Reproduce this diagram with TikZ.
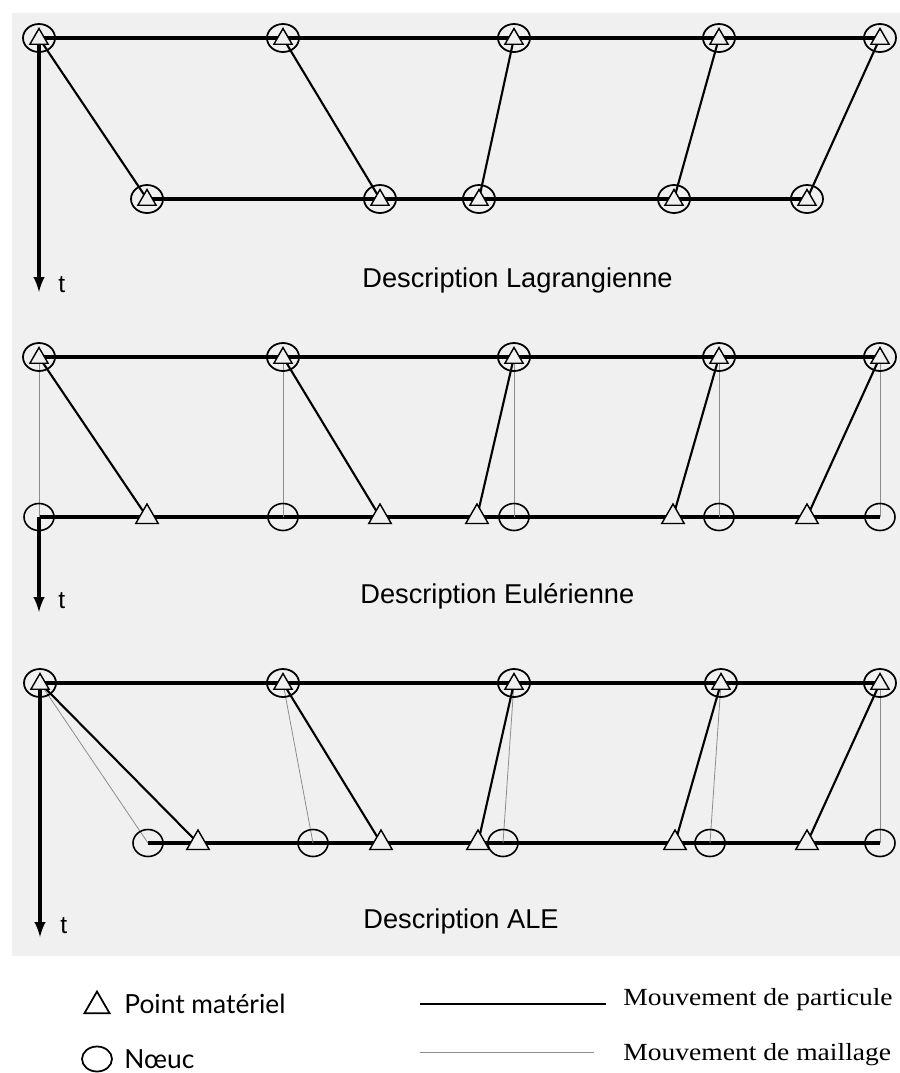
\documentclass[tikz,border=0pt]{standalone}
\usepackage{fontspec}
\setmainfont{Liberation Serif}
\newfontfamily\descfont{Liberation Sans}
\newfontfamily\legfont{Lato}
\usepackage{xcolor}
\usepackage{tikz}
\usetikzlibrary{shapes.geometric}

\definecolor{fond}{gray}{0.94}
\pgfdeclarelayer{fondlayer}
\pgfdeclarelayer{traits}
\pgfsetlayers{fondlayer,traits,main}

\tikzset{
	noeud/.style={draw,ellipse,line width=0.9pt,minimum width=0.6cm,minimum height=0.54cm,inner sep=0pt},
	tete/.style={noeud,line width=1pt,minimum width=0.64cm,minimum height=0.56cm},
	materiel/.style={draw,fill=fond,regular polygon,regular polygon sides=3,line width=0.8pt,minimum size=0.52cm,inner sep=0pt},
	matpetit/.style={materiel,minimum size=0.42cm},
	ligne/.style={line width=1.9pt},
	traitpart/.style={line width=1.2pt},
	traitmaille/.style={line width=0.45pt,black!45},
	desc/.style={font=\descfont\fontsize{15.5}{18}\selectfont,anchor=base west,inner sep=0pt},
	tlab/.style={font=\descfont\fontsize{14}{16}\selectfont,anchor=base west,inner sep=0pt},
}

\begin{document}
\begin{tikzpicture}[x=0.02cm,y=-0.02cm]
		\useasboundingbox (0,0) rectangle (900,1073);
		\begin{pgfonlayer}{fondlayer}
			\fill[white] (0,0) rectangle (900,1073);
			\fill[fond] (12,13) rectangle (900,956);
		\end{pgfonlayer}

		% Lagrangien : maillage et matiere ensemble
		\node[tete] (la1) at (39,38) {};
		\node[tete] (la2) at (283,38) {};
		\node[tete] (la3) at (514,38) {};
		\node[tete] (la4) at (719,38) {};
		\node[tete] (la5) at (880,38) {};
		\node[matpetit] (la1p) at (39,39) {};
		\node[matpetit] (la2p) at (283,39) {};
		\node[matpetit] (la3p) at (514,39) {};
		\node[matpetit] (la4p) at (719,39) {};
		\node[matpetit] (la5p) at (880,39) {};
		\node[tete] (lb1) at (147,199) {};
		\node[tete] (lb2) at (380,199) {};
		\node[tete] (lb3) at (479,199) {};
		\node[tete] (lb4) at (674,199) {};
		\node[tete] (lb5) at (807,199) {};
		\node[matpetit] (lb1p) at (147,200) {};
		\node[matpetit] (lb2p) at (380,200) {};
		\node[matpetit] (lb3p) at (479,200) {};
		\node[matpetit] (lb4p) at (674,200) {};
		\node[matpetit] (lb5p) at (807,200) {};
		\coordinate (lt) at (39,292);
		\node[tlab] (ltlab) at (58,292) {t};
		\node[desc] (ltitre) at (362,287) {Description Lagrangienne};
		\begin{pgfonlayer}{traits}
			\draw[ligne] (la1.center) -- (la5.center);
			\draw[ligne] (lb1.center) -- (lb5.center);
			\draw[traitpart] (la1.center) -- (lb1.center);
			\draw[traitpart] (la2.center) -- (lb2.center);
			\draw[traitpart] (la3.center) -- (lb3.center);
			\draw[traitpart] (la4.center) -- (lb4.center);
			\draw[traitpart] (la5.center) -- (lb5.center);
			\draw[ligne,-latex] (la1.center) -- (lt);
		\end{pgfonlayer}

		% Eulerien : maillage fixe
		\node[tete] (ea1) at (39,357) {};
		\node[tete] (ea2) at (283,357) {};
		\node[tete] (ea3) at (514,357) {};
		\node[tete] (ea4) at (719,357) {};
		\node[tete] (ea5) at (880,357) {};
		\node[matpetit] (ea1p) at (39,358) {};
		\node[matpetit] (ea2p) at (283,358) {};
		\node[matpetit] (ea3p) at (514,358) {};
		\node[matpetit] (ea4p) at (719,358) {};
		\node[matpetit] (ea5p) at (880,358) {};
		\node[noeud] (en1) at (39,517) {};
		\node[noeud] (en2) at (283,517) {};
		\node[noeud] (en3) at (514,517) {};
		\node[noeud] (en4) at (719,517) {};
		\node[noeud] (en5) at (880,517) {};
		\node[materiel] (ep1) at (147,517) {};
		\node[materiel] (ep2) at (380,517) {};
		\node[materiel] (ep3) at (477,517) {};
		\node[materiel] (ep4) at (673,517) {};
		\node[materiel] (ep5) at (807,517) {};
		\coordinate (et) at (39,612);
		\node[tlab] (etlab) at (58,608) {t};
		\node[desc] (etitre) at (360,603) {Description Eulérienne};
		\begin{pgfonlayer}{traits}
			\draw[ligne] (ea1.center) -- (ea5.center);
			\draw[ligne] (en1.center) -- (en5.center);
			\draw[traitmaille] (ea1.center) -- (en1.center);
			\draw[traitmaille] (ea2.center) -- (en2.center);
			\draw[traitmaille] (ea3.center) -- (en3.center);
			\draw[traitmaille] (ea4.center) -- (en4.center);
			\draw[traitmaille] (ea5.center) -- (en5.center);
			\draw[traitpart] (ea1.center) -- (ep1.center);
			\draw[traitpart] (ea2.center) -- (ep2.center);
			\draw[traitpart] (ea3.center) -- (ep3.center);
			\draw[traitpart] (ea4.center) -- (ep4.center);
			\draw[traitpart] (ea5.center) -- (ep5.center);
			\draw[ligne,-latex] (en1.center) -- (et);
		\end{pgfonlayer}

		% ALE : le maillage bouge aussi
		\node[tete] (aa1) at (40,683) {};
		\node[tete] (aa2) at (283,683) {};
		\node[tete] (aa3) at (514,683) {};
		\node[tete] (aa4) at (721,683) {};
		\node[tete] (aa5) at (880,683) {};
		\node[matpetit] (aa1p) at (40,684) {};
		\node[matpetit] (aa2p) at (283,684) {};
		\node[matpetit] (aa3p) at (514,684) {};
		\node[matpetit] (aa4p) at (721,684) {};
		\node[matpetit] (aa5p) at (880,684) {};
		\node[noeud] (an1) at (148,843) {};
		\node[noeud] (an2) at (313,843) {};
		\node[noeud] (an3) at (503,843) {};
		\node[noeud] (an4) at (710,843) {};
		\node[noeud] (an5) at (880,843) {};
		\node[materiel] (ap1) at (198,843) {};
		\node[materiel] (ap2) at (381,843) {};
		\node[materiel] (ap3) at (478,843) {};
		\node[materiel] (ap4) at (675,843) {};
		\node[materiel] (ap5) at (807,843) {};
		\coordinate (at) at (40,937);
		\node[tlab] (atlab) at (60,933) {t};
		\node[desc] (atitre) at (363,928) {Description ALE};
		\begin{pgfonlayer}{traits}
			\draw[ligne] (aa1.center) -- (aa5.center);
			\draw[ligne] (an1.center) -- (an5.center);
			\draw[traitmaille] (aa1.center) -- (an1.center);
			\draw[traitmaille] (aa2.center) -- (an2.center);
			\draw[traitmaille] (aa3.center) -- (an3.center);
			\draw[traitmaille] (aa4.center) -- (an4.center);
			\draw[traitmaille] (aa5.center) -- (an5.center);
			\draw[traitpart] (aa1.center) -- (ap1.center);
			\draw[traitpart] (aa2.center) -- (ap2.center);
			\draw[traitpart] (aa3.center) -- (ap3.center);
			\draw[traitpart] (aa4.center) -- (ap4.center);
			\draw[traitpart] (aa5.center) -- (ap5.center);
			\draw[ligne,-latex] (aa1.center) -- (at);
		\end{pgfonlayer}

		% legende
		\node[materiel,fill=white,line width=1pt,minimum size=0.58cm] (legpt) at (97,1006) {};
		\node[noeud,line width=1pt,minimum width=0.6cm,minimum height=0.5cm] (legnd) at (97,1059) {};
		\node[font=\legfont\fontsize{15}{17}\selectfont,anchor=base west,inner sep=0pt] (legpttxt) at (124,1013) {Point matériel};
		\node[font=\legfont\fontsize{15}{17}\selectfont,anchor=base west,inner sep=0pt] (legndtxt) at (124,1068) {Nœuc};
		\coordinate (legpa) at (420,1004);
		\coordinate (legpb) at (606,1004);
		\coordinate (legma) at (420,1052);
		\coordinate (legmb) at (594,1052);
		\draw[ligne,line width=1.5pt] (legpa) -- (legpb);
		\draw[traitmaille] (legma) -- (legmb);
		\node[font=\fontsize{14}{16}\selectfont,anchor=base west,inner sep=0pt] (legparttxt) at (623,1005) {\scalebox{1.12}[1]{Mouvement de particule}};
		\node[font=\fontsize{14}{16}\selectfont,anchor=base west,inner sep=0pt] (legmailtxt) at (623,1060) {\scalebox{1.12}[1]{Mouvement de maillage}};
\end{tikzpicture}
\end{document}
